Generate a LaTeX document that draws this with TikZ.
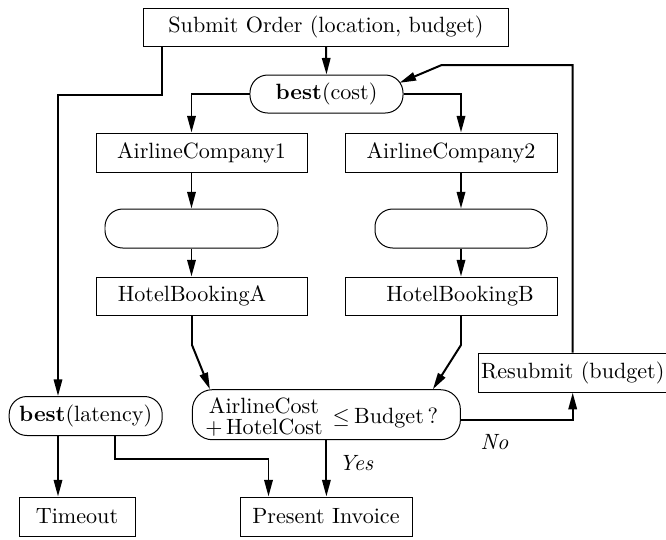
\documentclass[tikz,border=0pt]{standalone}
\usetikzlibrary{arrows.meta,calc}
\newcommand{\pw}[1]{#1*0.4525pt}
\begin{document}
\begin{tikzpicture}[x=0.4525pt,y=-0.4525pt,
  box/.style={draw,line width=0.45pt,inner sep=1pt,rectangle},
  pill/.style={draw,line width=0.45pt,inner sep=1pt,rectangle,rounded corners=8pt},
  conn/.style={line width=0.9pt,-{Triangle[length=7.5pt,width=3.8pt]}},
  lbl/.style={font=\itshape}]
\useasboundingbox (0,0) rectangle (666,539);

\node[box,minimum width=\pw{365},minimum height=\pw{38}] (submit) at (326,27) {Submit Order (location, budget)};
\node[pill,minimum width=\pw{153},minimum height=\pw{38}] (cost) at (326.5,94) {\textbf{best}(cost)};
\node[box,minimum width=\pw{211},minimum height=\pw{39}] (ac1) at (201.5,152.5) {AirlineCompany1};
\node[box,minimum width=\pw{212},minimum height=\pw{39}] (ac2) at (451,152.5) {AirlineCompany2};
\node[pill,minimum width=\pw{173},minimum height=\pw{39}] (pa) at (191.5,228.5) {};
\node[pill,minimum width=\pw{172},minimum height=\pw{39}] (pb) at (461,228.5) {};
\node[box,minimum width=\pw{211},minimum height=\pw{38}] (hba) at (201.5,296) {HotelBookingA\hspace*{8.6pt}};
\node[box,minimum width=\pw{212},minimum height=\pw{38}] (hbb) at (451,296) {\hspace*{8.2pt}HotelBookingB};
\node[box,minimum width=\pw{187},minimum height=\pw{39}] (res) at (572.7,372.7) {Resubmit (budget)};
\node[pill,minimum width=\pw{153},minimum height=\pw{39}] (lat) at (85.7,416) {\textbf{best}(latency)};
\node[pill,rounded corners=9pt,minimum width=\pw{268},minimum height=\pw{50},text height=0pt,text depth=0pt] (dec) at (326.4,414.7)
  {\raisebox{-3.75pt}{\raisebox{4.2pt}{\renewcommand{\arraystretch}{0.7}\begin{tabular}[t]{@{}c@{}}AirlineCost\\$+$\,HotelCost\end{tabular}}\hspace{4.5pt}$\leq$\hspace{2pt}Budget\,?}\hspace*{4.3pt}};
\node[box,minimum width=\pw{116},minimum height=\pw{39}] (tout) at (77,516.5) {Timeout};
\node[box,minimum width=\pw{172},minimum height=\pw{39}] (pi) at (326,516.5) {Present Invoice};

\coordinate (k1) at (162,94.5);
\coordinate (k2) at (58,94.5);
\coordinate (k3) at (192,345);
\coordinate (k4) at (461,345);
\coordinate (k5) at (441.7,65);
\coordinate (k7) at (115,459);

\draw[conn] (submit.south) -- (cost.north);
\draw[conn] (submit.south -| k1) -- (k1) -- (k2) -- (lat.north -| k2);
\draw[conn] (cost.west) -| (pa |- ac1.north);
\draw[conn] (cost.east) -| (pb |- ac2.north);
\draw[conn] (ac1.south -| pa) -- (pa.north);
\draw[conn] (pa.south) -- (hba.north -| pa);
\draw[conn] (ac2.south -| pb) -- (pb.north);
\draw[conn] (pb.south) -- (hbb.north -| pb);
\draw[conn] (hba.south -| k3) -- (k3) -- ($(dec.north west)+(18,0)$);
\draw[conn] (hbb.south -| k4) -- (k4) -- ($(dec.north east)+(-28,0)$);
\draw[conn] ($(dec.east)+(0,5)$) -- node[lbl,pos=0.3,below=3pt]{No} ($(dec.east -| res.south)+(0,5)$) -- (res.south);
\draw[conn] (res.north) -- (res.north |- k5) -- (k5) -- ($(cost.north east)+(-4,8.3)$);
\draw[conn] (dec.south) -- node[lbl,pos=0.4,right=2pt]{Yes} (pi.north -| dec.south);
\draw[conn] (lat.south -| k2) -- (tout.north -| k2);
\draw[conn] (lat.south -| k7) -- (k7) -| ($(pi.north west)+(29,0)$);
\end{tikzpicture}
\end{document}
